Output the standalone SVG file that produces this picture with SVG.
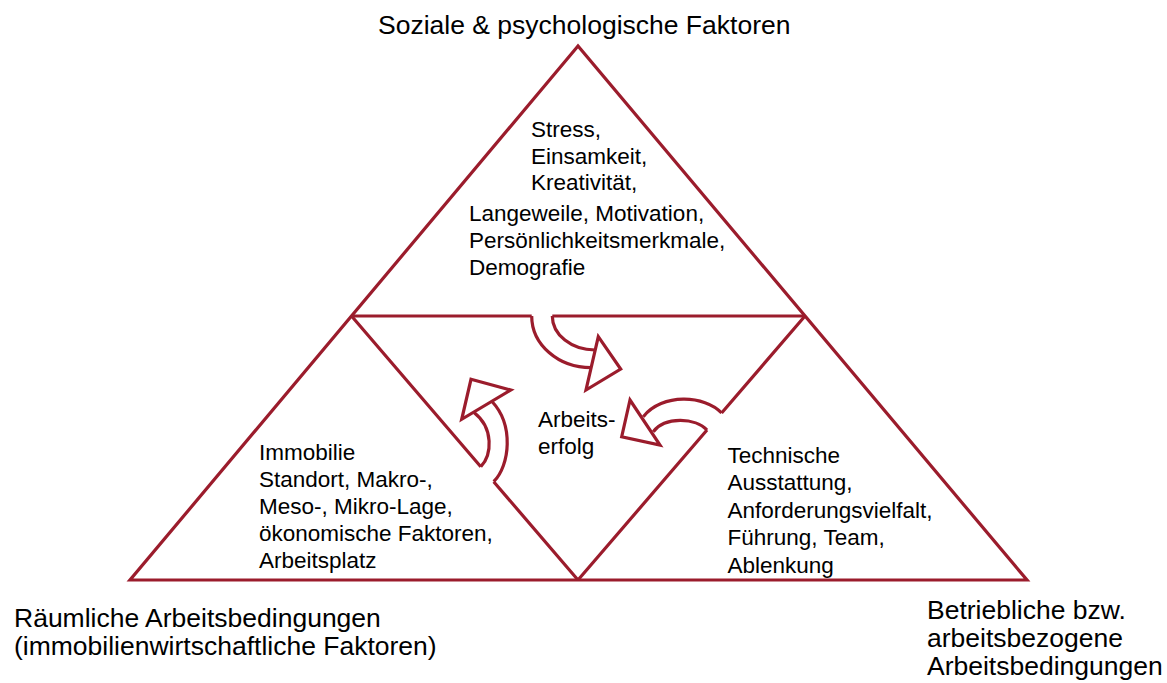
<svg xmlns="http://www.w3.org/2000/svg" width="1167" height="683" viewBox="0 0 1167 683">
  <style>
    .ln { fill: none; stroke: #9b1c2c; stroke-width: 3.2; stroke-linejoin: miter; stroke-miterlimit: 10; }
    .hd { fill: #ffffff; stroke: #9b1c2c; stroke-width: 3.2; stroke-linejoin: miter; }
    .big { font-family: "Liberation Sans", Arial, sans-serif; font-size: 26.5px; fill: #000; }
    .txt { font-family: "Liberation Sans", Arial, sans-serif; font-size: 22.5px; fill: #000; }
  </style>
  <rect width="1167" height="683" fill="#ffffff"/>

  <g id="outer-triangle">
    <path class="ln" d="M 578 46 L 130 580 L 1027 580 Z"/>
  </g>

  <g id="inner-triangle">
    <path class="ln" d="M 351.5 316 L 531.7 316 M 552.3 316 L 805 316"/>
    <path class="ln" d="M 351.5 316 L 480.8 466.7 M 493.7 481.7 L 578 580"/>
    <path class="ln" d="M 805 316 L 721.6 413 M 707 430 L 578 580"/>
  </g>

  <g id="connectors">
    <g id="arrow-top">
      <path class="ln" d="M 531.7 316 A 59.3 51.7 0 0 0 591 367.7"/>
      <path class="ln" d="M 552.3 316 A 42.7 34 0 0 0 595.2 350"/>
      <path class="hd" d="M 598.3 336.7 L 620.7 369 L 586 390 Z"/>
    </g>
    <g id="arrow-left">
      <path class="ln" d="M 493.7 481.7 C 510 465, 514 425, 492 401.5"/>
      <path class="ln" d="M 480.8 466.7 C 492 455, 494 428, 474 412.5"/>
      <path class="hd" d="M 471 379.3 L 510.7 390 L 461.7 419.3 Z"/>
    </g>
    <g id="arrow-right">
      <path class="ln" d="M 721.6 413 C 705 395, 662 393, 643.3 416.7"/>
      <path class="ln" d="M 707 430 C 696 418, 665 416, 653.3 431.7"/>
      <path class="hd" d="M 630 400 L 660 445 L 621.7 436.7 Z"/>
    </g>
  </g>

  <g id="label-social">
    <text class="big" x="378" y="34">Soziale &amp; psychologische Faktoren</text>
  </g>

  <g id="node-social">
    <text class="txt" x="531" y="137">Stress,</text>
    <text class="txt" x="531" y="163.5">Einsamkeit,</text>
    <text class="txt" x="531" y="190">Kreativität,</text>
    <text class="txt" x="469" y="221">Langeweile, Motivation,</text>
    <text class="txt" x="469" y="248">Persönlichkeitsmerkmale,</text>
    <text class="txt" x="469" y="275">Demografie</text>
  </g>

  <g id="node-center">
    <text class="txt" x="538" y="427">Arbeits-</text>
    <text class="txt" x="538" y="453.5">erfolg</text>
  </g>

  <g id="node-spatial">
    <text class="txt" x="259" y="459.5">Immobilie</text>
    <text class="txt" x="259" y="487">Standort, Makro-,</text>
    <text class="txt" x="259" y="513.5">Meso-, Mikro-Lage,</text>
    <text class="txt" x="259" y="541">ökonomische Faktoren,</text>
    <text class="txt" x="259" y="568">Arbeitsplatz</text>
  </g>

  <g id="node-operational">
    <text class="txt" x="727.5" y="462.5">Technische</text>
    <text class="txt" x="727.5" y="490">Ausstattung,</text>
    <text class="txt" x="727.5" y="517.5">Anforderungsvielfalt,</text>
    <text class="txt" x="727.5" y="545">Führung, Team,</text>
    <text class="txt" x="727.5" y="572.5">Ablenkung</text>
  </g>

  <g id="label-spatial">
    <text class="big" x="14" y="627">Räumliche Arbeitsbedingungen</text>
    <text class="big" x="14" y="655">(immobilienwirtschaftliche Faktoren)</text>
  </g>

  <g id="label-operational">
    <text class="big" x="927" y="618.5">Betriebliche bzw.</text>
    <text class="big" x="927" y="646.5">arbeitsbezogene</text>
    <text class="big" x="927" y="674.5">Arbeitsbedingungen</text>
  </g>
</svg>
